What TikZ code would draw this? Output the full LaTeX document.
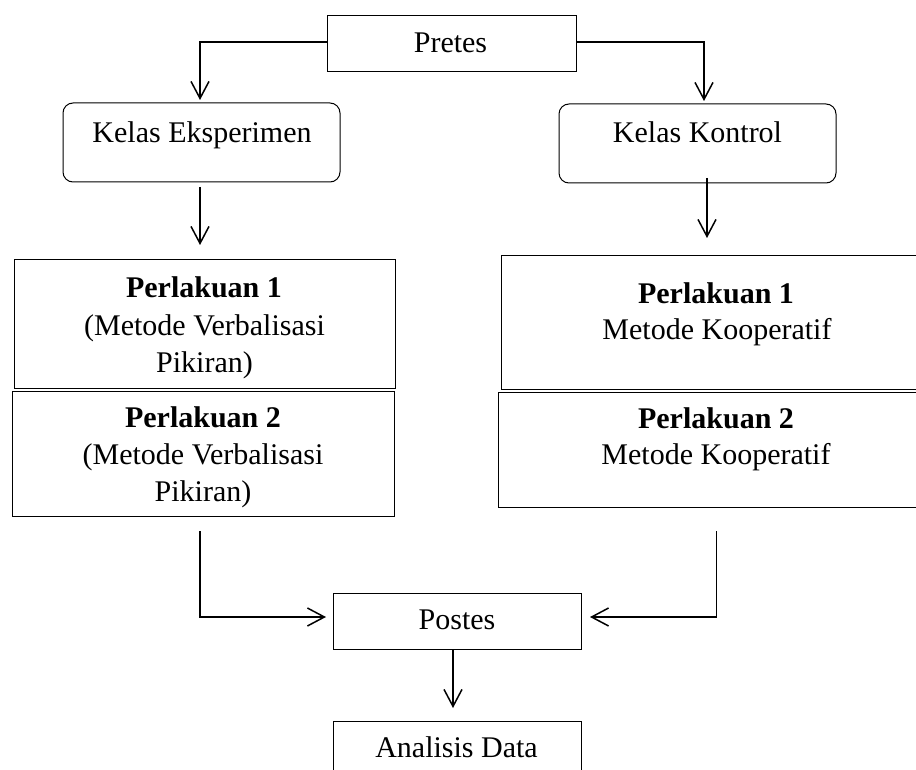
\documentclass[tikz,border=0pt]{standalone}
\usepackage{fontspec}
\setmainfont{Liberation Serif}
\usetikzlibrary{arrows.meta,calc}
\begin{document}
\begin{tikzpicture}[x=1pt,y=-1pt,
  box/.style={draw, line width=1pt, inner sep=0pt, outer sep=0pt},
  txt/.style={anchor=base, inner sep=0pt, font=\fontsize{30}{36.5}\selectfont},
  btxt/.style={txt, font=\fontsize{30}{36.5}\selectfont\bfseries},
  arr/.style={line width=1.5pt, -{Straight Barb[length=17pt,width=18pt,line width=1.5pt]}},
  ln/.style={line width=1.5pt}]
\clip (0,0) rectangle (916,770);
% boxes
\node[box, minimum width=249pt, minimum height=56pt] (pretes) at (451.5,44) {};
\node[box, rounded corners=10pt, minimum width=277pt, minimum height=79pt] (ke) at (201.5,142.5) {};
\node[box, rounded corners=10pt, minimum width=277pt, minimum height=79pt] (kk) at (697.5,143.5) {};
\node[box, minimum width=381pt, minimum height=128pt] (p1l) at (204.5,324) {};
\node[box, minimum width=382pt, minimum height=125pt] (p2l) at (203,453.5) {};
\node[box, minimum width=434pt, minimum height=133pt] (p1r) at (718,322.5) {};
\node[box, minimum width=437pt, minimum height=115pt] (p2r) at (716.5,449.5) {};
\node[box, minimum width=248pt, minimum height=56pt] (postes) at (457,621) {};
\node[box, minimum width=248pt, minimum height=69pt] (analisis) at (457,755.5) {};
% texts
\node[txt] (tpretes) at (450.5,53) {Pretes};
\node[txt] (tke) at (202,143) {Kelas Eksperimen};
\node[txt] (tkk) at (697.5,143) {Kelas Kontrol};
\node[btxt] (tp1la) at (204,298) {Perlakuan 1};
\node[txt] (tp1lb) at (204.5,335) {(Metode Verbalisasi};
\node[txt] (tp1lc) at (204.5,372) {Pikiran)};
\node[btxt] (tp2la) at (203,427) {Perlakuan 2};
\node[txt] (tp2lb) at (203,464) {(Metode Verbalisasi};
\node[txt] (tp2lc) at (203,501) {Pikiran)};
\node[btxt] (tp1ra) at (716,303) {Perlakuan 1};
\node[txt] (tp1rb) at (717,339) {Metode Kooperatif};
\node[btxt] (tp2ra) at (716,428) {Perlakuan 2};
\node[txt] (tp2rb) at (716,464) {Metode Kooperatif};
\node[txt] (tpostes) at (457,629) {Postes};
\node[txt] (tanalisis) at (456.5,757) {Analisis Data};
% connectors (yshift is in canvas direction: positive = up)
\draw[arr, shorten >=3pt] ([yshift=2pt]pretes.west) -| ([xshift=-1.5pt]ke.north);
\draw[arr, shorten >=3pt] ([yshift=2pt]pretes.east) -| ([xshift=6.5pt]kk.north);
\draw[arr, shorten <=5pt, shorten >=15pt] ([xshift=-1.5pt]ke.south) -- ([xshift=-1.5pt]ke.south |- p1l.north);
\draw[arr, shorten <=-5pt, shorten >=18pt] ([xshift=9.5pt]kk.south) -- ([xshift=9.5pt]kk.south |- p1r.north);
\coordinate (sl) at ([xshift=-3pt,yshift=-15pt]p2l.south);
\coordinate (sr) at ([yshift=-24pt]p2r.south);
\draw[arr, shorten >=7pt] (sl) |- ([yshift=4pt]postes.west);
\draw[arr, shorten >=9pt] (sr) |- ([yshift=4pt]postes.east);
\draw[arr, shorten >=13pt] ([xshift=-4pt]postes.south) -- ([xshift=-4pt]postes.south |- analisis.north);
\end{tikzpicture}
\end{document}
